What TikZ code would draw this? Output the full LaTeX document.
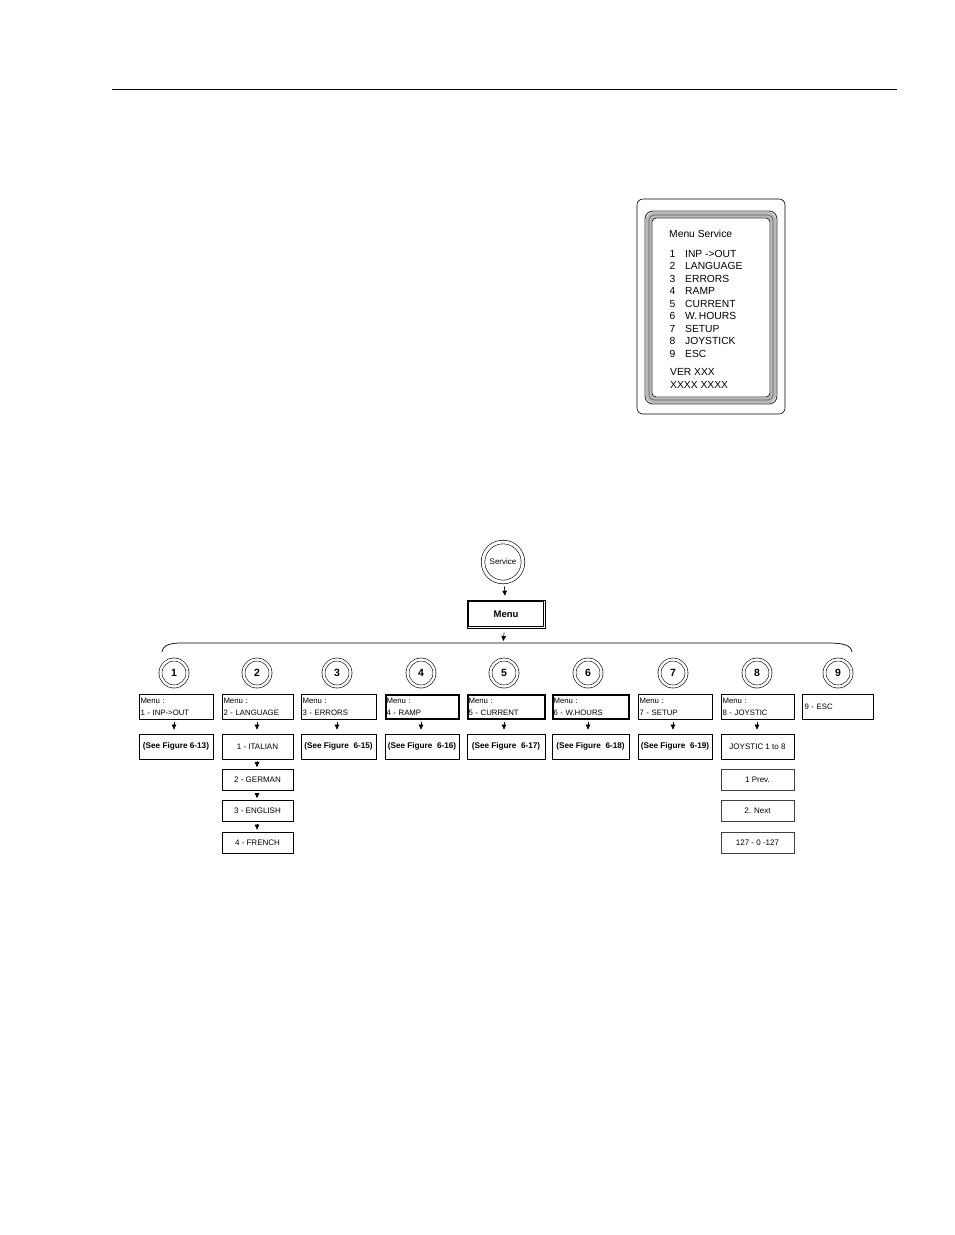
\documentclass[tikz,border=0pt]{standalone}
\usepackage{fontspec}
\setmainfont{Liberation Sans}
\usetikzlibrary{arrows.meta}
\newcommand\myinnerbox[2]{\draw[line width=0.5pt] ([shift={(#2,-#2)}]#1.north west) rectangle ([shift={(-#2,#2)}]#1.south east);}
\begin{document}
\begin{tikzpicture}[x=1pt,y=-1pt,
  box/.style={draw,line width=0.7pt,minimum height=25pt,inner sep=1.5pt},
  menubox/.style={box,align=left,font=\fontsize{7.8}{12}\selectfont},
  figbox/.style={box,font=\bfseries\fontsize{8.2}{10}\selectfont},
  itembox/.style={box,font=\fontsize{8}{10}\selectfont,minimum height=21pt},
  numc/.style={circle,draw,double,line width=0.6pt,double distance=2.4pt,minimum size=27pt,inner sep=0pt,font=\bfseries\fontsize{10.5}{12}\selectfont},
  arr/.style={-{Triangle[length=5pt,width=4.5pt]},line width=0.6pt,shorten <=4pt,shorten >=4pt},
  lcd/.style={anchor=base west,inner sep=0pt,font=\fontsize{10.3}{12}\selectfont}
]
\useasboundingbox (0,0) rectangle (954,1235);
% header rule
\coordinate (rl) at (112,89);
\coordinate (rr) at (897,89);
\draw[line width=1pt] (rl) -- (rr);

% LCD display
\draw[line width=0.6pt,rounded corners=6pt] (637,199) rectangle (785,414);
\draw[line width=6pt,gray!55,rounded corners=7pt] (648.5,214.5) rectangle (773.5,400.5);
\draw[line width=0.9pt,black!80,rounded corners=8pt] (645,211) rectangle (777,404);
\draw[line width=0.6pt,black!65,rounded corners=5pt] (649,215) rectangle (773,400);
\draw[line width=0.9pt,black!80,rounded corners=4pt] (652,218) rectangle (770,397);
\node[lcd] (lt) at (669,237) {Menu Service};
\foreach \n/\t [count=\i] in {1/INP ->OUT,2/LANGUAGE,3/ERRORS,4/RAMP,5/CURRENT,6/W.\,HOURS,7/SETUP,8/JOYSTICK,9/ESC}{
  \node[lcd] (lcd\i) at (669.5,{257+12.5*(\i-1)}) {\makebox[15.5pt][l]{\n}\t};
}
\node[lcd] (lv1) at (670,375) {VER XXX};
\node[lcd] (lv2) at (670,388) {XXXX XXXX};

% Service & Menu
\node[circle,draw,double,line width=0.6pt,double distance=3pt,minimum size=40pt,inner sep=0pt,font=\fontsize{8}{10}\selectfont] (srv) at (503,562) {Service};
\node[box,minimum width=78pt,minimum height=28pt,font=\bfseries\fontsize{9.5}{11}\selectfont] (menu) at (506,614) {Menu};
\myinnerbox{menu}{2pt}
\draw[arr] (srv) -- (menu);

% brace
\coordinate (bl) at (162,652);
\coordinate (br) at (852,652);
\coordinate (bm) at (503,643);
\draw[line width=0.7pt] (bl) .. controls (163,645) and (170,643) .. (182,643) -- (bm) -- (828,643) .. controls (843,643) and (851,645) .. (br);
\draw[arr,shorten >=2pt] (menu) -- (bm);

% circles
\foreach \x [count=\i] in {174,257,337,421,504,588,673,757,838}{
  \node[numc] (c\i) at (\x,673) {\i};
}

% menu boxes
\node[menubox,minimum width=74pt,text width=71pt] (m1) at (176,706.5) {Menu :\\1 - INP->OUT};
\node[menubox,minimum width=71pt,text width=68pt] (m2) at (257.5,706.5) {Menu :\\2 - LANGUAGE};
\node[menubox,minimum width=75pt,text width=72pt] (m3) at (338.5,706.5) {Menu :\\3 - ERRORS};
\node[menubox,minimum width=74pt,text width=71pt] (m4) at (422,706.5) {Menu :\\4 - RAMP};
\node[menubox,minimum width=78pt,text width=75pt] (m5) at (506,706.5) {Menu :\\5 - CURRENT};
\node[menubox,minimum width=77pt,text width=74pt] (m6) at (590.5,706.5) {Menu :\\6 - W.HOURS};
\node[menubox,minimum width=74pt,text width=71pt] (m7) at (675,706.5) {Menu :\\7 - SETUP};
\node[menubox,minimum width=73pt,text width=70pt] (m8) at (757.5,706.5) {Menu :\\8 - JOYSTIC};
\node[menubox,minimum width=71pt,text width=66pt] (m9) at (837.5,706.5) {9 - ESC};
\myinnerbox{m4}{1.3pt}
\myinnerbox{m5}{1.3pt}
\myinnerbox{m6}{1.3pt}

% second row
\node[figbox,minimum width=74pt] (s1) at (176,746.5) {(See Figure 6-13)};
\node[itembox,minimum width=71pt,minimum height=25pt] (s2) at (257.5,746.5) {1 - ITALIAN};
\node[figbox,minimum width=75pt] (s3) at (338.5,746.5) {(See Figure\ \ 6-15)};
\node[figbox,minimum width=74pt] (s4) at (422,746.5) {(See Figure\ \ 6-16)};
\node[figbox,minimum width=78pt] (s5) at (506,746.5) {(See Figure\ \ 6-17)};
\node[figbox,minimum width=77pt] (s6) at (590.5,746.5) {(See Figure\ \ 6-18)};
\node[figbox,minimum width=74pt] (s7) at (675,746.5) {(See Figure\ \ 6-19)};
\node[itembox,minimum width=73pt,minimum height=25pt] (s8) at (757.5,746.5) {JOYSTIC 1 to 8};

\foreach \i in {1,...,8}{
  \draw[arr,shorten <=3pt] (c\i |- m\i.south) -- (c\i |- s\i.north);
}

% language chain
\node[itembox,minimum width=71pt] (g2) at (257.5,780) {2 - GERMAN};
\node[itembox,minimum width=71pt] (g3) at (257.5,811) {3 - ENGLISH};
\node[itembox,minimum width=71pt] (g4) at (257.5,842.5) {4 - FRENCH};
\draw[arr,shorten <=2pt,shorten >=2pt] (c2 |- s2.south) -- (c2 |- g2.north);
\draw[arr,shorten <=2pt,shorten >=2pt] (c2 |- g2.south) -- (c2 |- g3.north);
\draw[arr,shorten <=2pt,shorten >=2pt] (c2 |- g3.south) -- (c2 |- g4.north);

% joystick list
\node[itembox,draw=black!75,minimum width=73pt] (j2) at (757.5,779.5) {1 Prev.};
\node[itembox,draw=black!75,minimum width=73pt] (j3) at (757.5,810.5) {2. Next};
\node[itembox,draw=black!75,minimum width=73pt] (j4) at (757.5,842.5) {127 - 0 -127};
\end{tikzpicture}
\end{document}
